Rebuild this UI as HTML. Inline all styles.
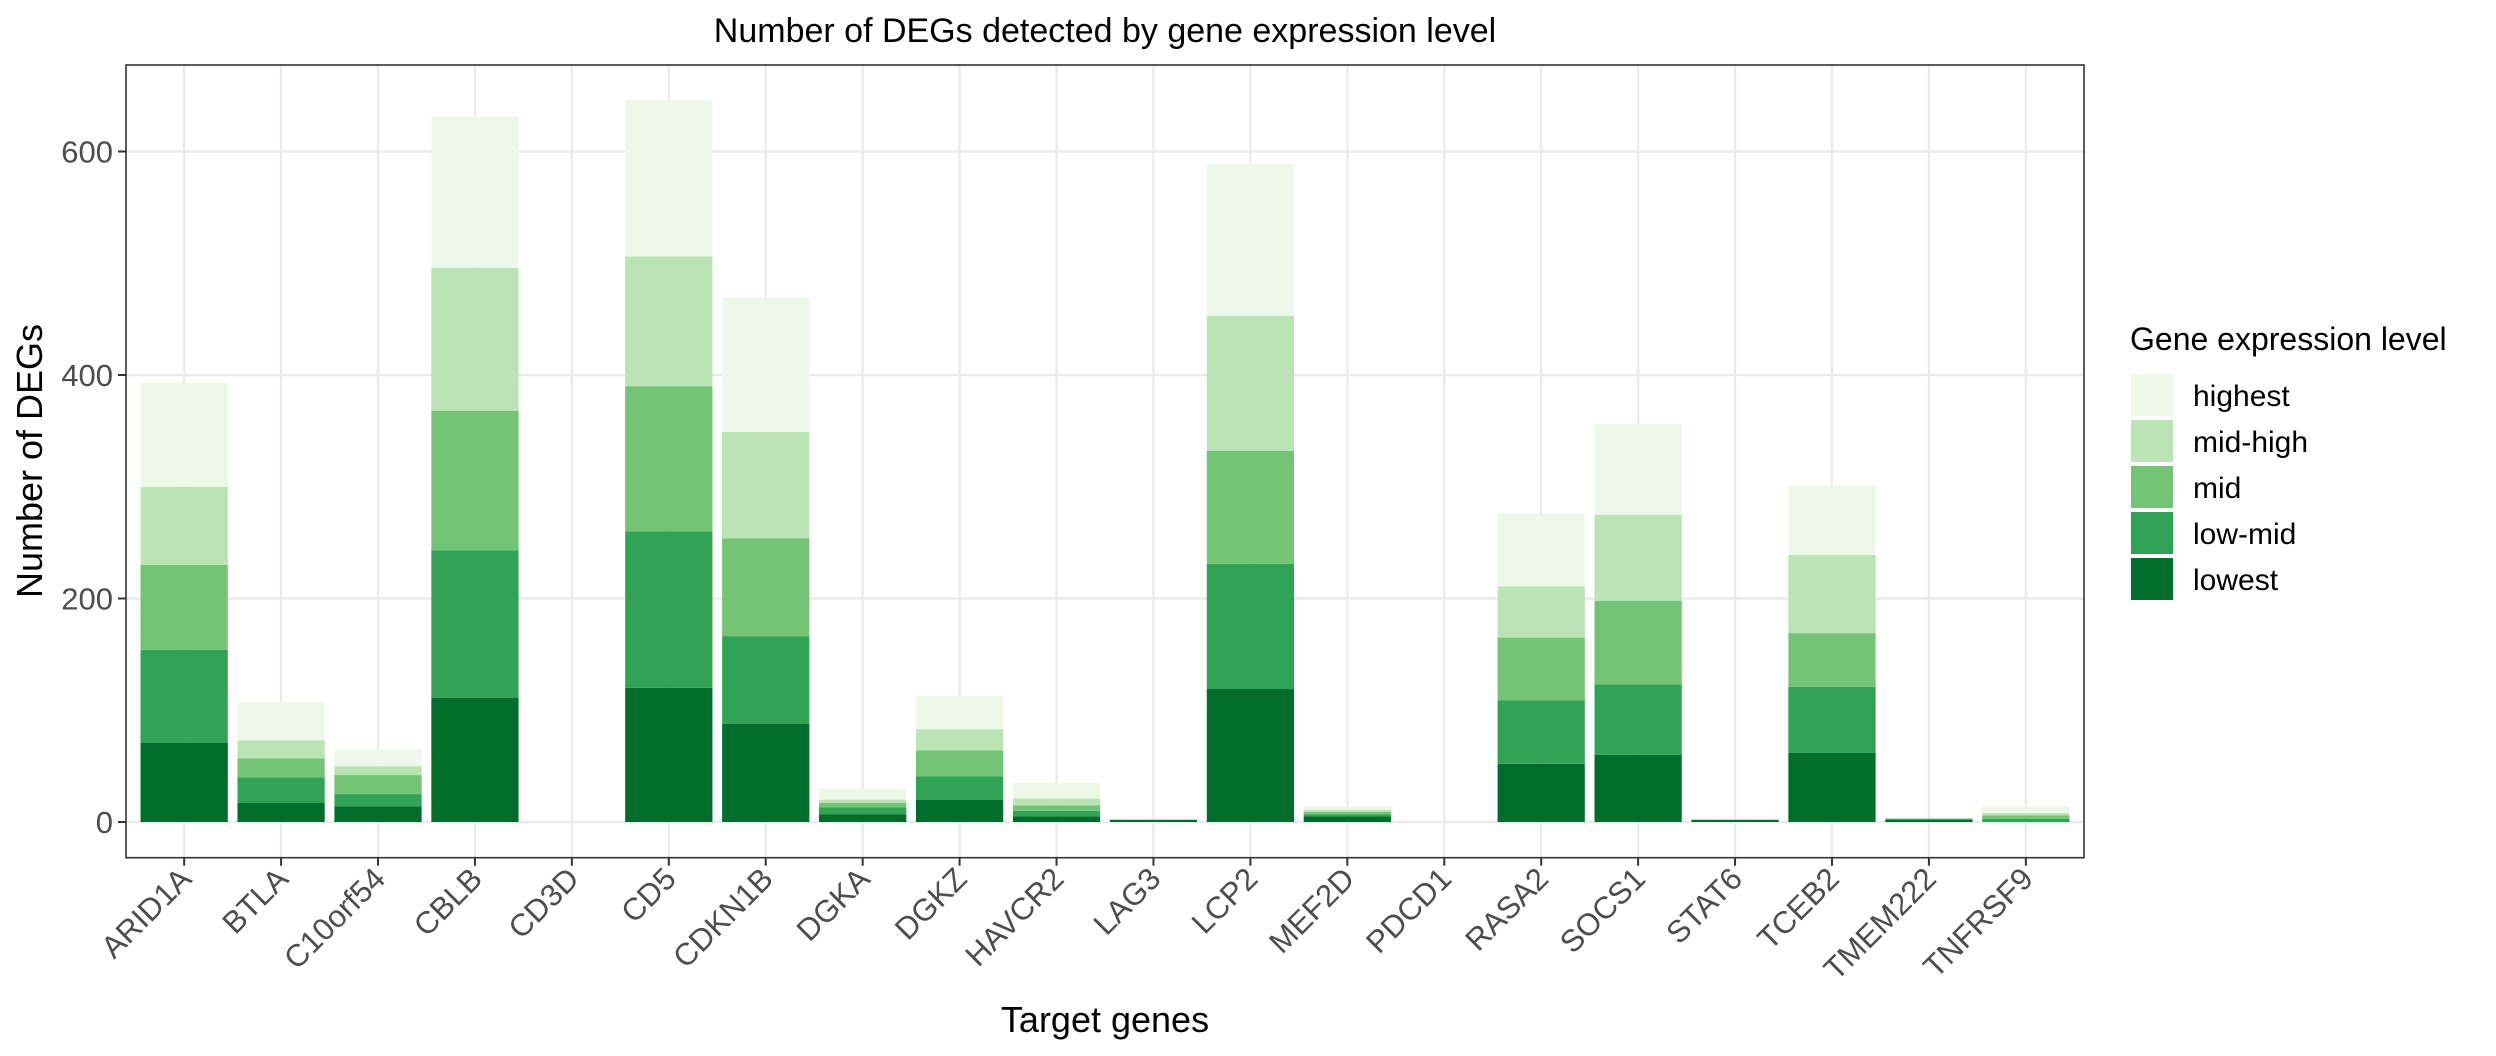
<!DOCTYPE html>
<html><head><meta charset="utf-8"><style>
body{margin:0;background:#fff}
svg{display:block;font-family:"Liberation Sans",Arial,sans-serif}
</style></head><body>
<svg id="chart" width="2496" height="1056" viewBox="0 0 2496 1056">
<text x="1105" y="42" font-size="34" text-anchor="middle" fill="#000">Number of DEGs detected by gene expression level</text>
<g id="grid"></g>
<g id="bars"></g>
<rect x="126" y="65" width="1958" height="792.7" fill="none" stroke="#333" stroke-width="1.6"/>
<g id="axes"></g>
<text x="1105" y="1032" font-size="36" text-anchor="middle" fill="#000">Target genes</text>
<text transform="translate(42,461) rotate(-90)" font-size="36" text-anchor="middle" fill="#000">Number of DEGs</text>
<g id="legend">
<text x="2130" y="350" font-size="32" fill="#000">Gene expression level</text>
</g>
</svg>
<script>
const genes = ["ARID1A","BTLA","C10orf54","CBLB","CD3D","CD5","CDKN1B","DGKA","DGKZ","HAVCR2","LAG3","LCP2","MEF2D","PDCD1","RASA2","SOCS1","STAT6","TCEB2","TMEM222","TNFRSF9"];
const levels = ["lowest","low-mid","mid","mid-high","highest"];
const lowest  = [71,17,14,111,0,120,88,7,20,5,2,119,5,0,52,60,2,62,2,0];
const lowMid  = [83,23,11,132,0,140,78,6,21,5,0,112,2,0,57,63,0,59,1,3];
const mid     = [76,17,17,125,0,130,88,4,23,5,0,101,2,0,56,75,0,48,0,3];
const midHigh = [70,16,8,128,0,116,95,3,19,6,0,121,2,0,46,77,0,70,0,2];
const highest = [93,34,15,135,0,140,120,10,30,14,0,136,3,0,65,81,0,62,0,6];
const yTicks = [0,200,400,600];
const series = [lowest,lowMid,mid,midHigh,highest];
const colors = ["#006d2c","#31a354","#74c476","#bae4b3","#edf8e9"];

const NS="http://www.w3.org/2000/svg";
const PL=126, PR=2084, PT=65, PB=857.7;
const step=(PR-PL)/(genes.length+0.2);
const xC=i=>PL+step*(0.6+i);
const Y0=822, k=1.1175;
const y=v=>Y0-v*k;
function mk(tag,attrs,parent){const e=document.createElementNS(NS,tag);for(const a in attrs)e.setAttribute(a,attrs[a]);parent.appendChild(e);return e;}
const grid=document.getElementById('grid'),bars=document.getElementById('bars'),axes=document.getElementById('axes'),legend=document.getElementById('legend');
yTicks.forEach(v=>{const l=mk('line',{x1:PL,x2:PR,y1:y(v),y2:y(v),stroke:'#ebebeb','stroke-width':2.4},grid);


const t=mk('line',{x1:PL-8,x2:PL,y1:y(v),y2:y(v),stroke:'#333','stroke-width':2},axes);


const tx=mk('text',{x:PL-13,y:y(v)+11,'font-size':31,'text-anchor':'end',fill:'#4d4d4d'},axes);
tx.textContent=v;

});
genes.forEach((g,i)=>{const cx=xC(i);
const l=mk('line',{x1:cx,x2:cx,y1:PT,y2:PB,stroke:'#ebebeb','stroke-width':2.4},grid);


let cum=0;const bw=step*0.9;
series.forEach((s,j)=>{const v=s[i];if(v>0){const r=mk('rect',{x:cx-bw/2,y:y(cum+v),width:bw,height:v*k,fill:colors[j]},bars);

}cum+=v;});
const t=mk('line',{x1:cx,x2:cx,y1:PB,y2:PB+8,stroke:'#333','stroke-width':2},axes);


const tx=mk('text',{transform:`translate(${cx+9},${PB+23}) rotate(-45)`,'font-size':31,'text-anchor':'end',fill:'#4d4d4d'},axes);
tx.textContent=g;

});
const legOrder=[4,3,2,1,0];
legOrder.forEach((j,n)=>{const top=374+n*46;
const r=mk('rect',{x:2131,y:top,width:42,height:42,fill:colors[j]},legend);


const t=mk('text',{x:2193,y:top+32,'font-size':30,fill:'#000'},legend);
t.textContent=levels[j];

});
</script>
</body></html>
